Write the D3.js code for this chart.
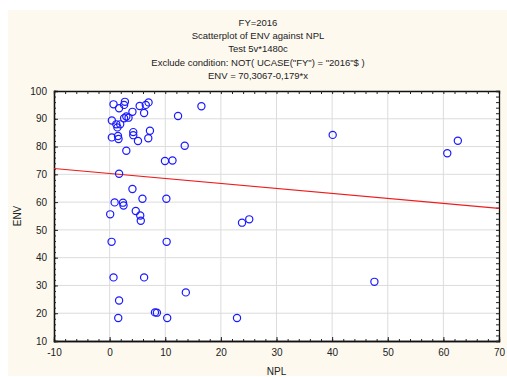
<!DOCTYPE html>
<html>
<head>
<meta charset="utf-8">
<script src="https://cdn.jsdelivr.net/npm/d3@7"></script>
<style>
  body { margin: 0; background: #fff; }
  text { font-family: "Liberation Sans", Arial, sans-serif; fill: #222; }
</style>
</head>
<body>
<svg id="chart"></svg>
<script>
// datos
const npl = [0.7, 1.7, 2.75, 2.6, 4.1, 5.4, 6.5, 7.0, 6.2, 16.5, 12.3,
  0.4, 1.2, 1.4, 1.9, 2.6, 3.0, 3.4,
  0.4, 1.5, 1.6, 4.25, 4.25, 5.1, 7.25, 6.95, 13.5, 3.0, 9.95, 11.3, 1.7,
  4.1, 5.9, 10.2, 0.9, 2.4, 2.5, 0.1, 4.7, 5.5, 5.6, 0.35, 10.25,
  40.1, 60.7, 62.6, 23.8, 25.1, 47.6,
  0.7, 6.2, 1.7, 13.7, 1.55, 8.15, 8.5, 10.35, 22.9];
const env = [95.2, 93.8, 96.1, 95.0, 92.5, 94.6, 95.0, 95.9, 92.1, 94.5, 91.0,
  89.4, 88.0, 86.9, 88.0, 90.2, 90.8, 90.4,
  83.3, 83.8, 82.7, 85.2, 84.1, 82.0, 85.7, 83.0, 80.3, 78.5, 74.8, 75.0, 70.2,
  64.7, 61.2, 61.2, 59.9, 59.8, 58.8, 55.6, 56.8, 55.2, 53.3, 45.7, 45.7,
  84.2, 77.6, 82.1, 52.6, 53.8, 31.3,
  32.9, 32.9, 24.6, 27.5, 18.3, 20.3, 20.2, 18.3, 18.3];
const xTicks = [-10, 0, 10, 20, 30, 40, 50, 60, 70];
const yTicks = [10, 20, 30, 40, 50, 60, 70, 80, 90, 100];
const titles = ['FY=2016', 'Scatterplot of ENV against NPL', 'Test 5v*1480c',
  'Exclude condition: NOT( UCASE("FY") = "2016"$ )', 'ENV = 70,3067-0,179*x'];
const intercept = 70.3067, slope = -0.179;

const width = 507, height = 377;
const pLeft = 54, pRight = 499, pTop = 91, pBottom = 341;

const svg = d3.select('#chart').attr('width', width).attr('height', height);

// fondo crema
svg.append('rect').attr('x', 8).attr('y', 10).attr('width', width - 8).attr('height', 366)
  .attr('fill', '#fdf9ef');
svg.append('rect').attr('x', pLeft).attr('y', pTop).attr('width', pRight - pLeft).attr('height', pBottom - pTop)
  .attr('fill', '#fff');

const x = d3.scaleLinear().domain([-10, 70]).range([pLeft, pRight]);
const y = d3.scaleLinear().domain([10, 100]).range([pBottom, pTop]);

// rejilla
svg.append('g').selectAll('line').data(xTicks.slice(1, -1)).enter().append('line')
  .attr('x1', d => x(d)).attr('x2', d => x(d)).attr('y1', pTop).attr('y2', pBottom)
  .attr('stroke', '#dcdcdc').attr('stroke-width', 1);
svg.append('g').selectAll('line').data(yTicks.slice(1, -1)).enter().append('line')
  .attr('y1', d => y(d)).attr('y2', d => y(d)).attr('x1', pLeft).attr('x2', pRight)
  .attr('stroke', '#dcdcdc').attr('stroke-width', 1);

// ejes con marcas hacia dentro
const fmt = d => String(d);
svg.append('g').attr('transform', `translate(0,${pBottom})`)
  .call(d3.axisBottom(x).tickValues(xTicks).tickSize(-4).tickPadding(8).tickFormat(fmt));
svg.append('g').attr('transform', `translate(0,${pBottom})`)
  .call(d3.axisBottom(x).tickValues(d3.range(-10, 71, 2)).tickSize(-2).tickFormat(''));
svg.append('g').attr('transform', `translate(${pLeft},0)`)
  .call(d3.axisLeft(y).tickValues(yTicks).tickSize(-4).tickPadding(7).tickFormat(fmt));
svg.append('g').attr('transform', `translate(${pLeft},0)`)
  .call(d3.axisLeft(y).tickValues(d3.range(10, 101, 2)).tickSize(-2).tickFormat(''));
svg.append('g').attr('transform', `translate(0,${pTop})`)
  .call(d3.axisTop(x).tickValues(d3.range(-10, 71, 2)).tickSize(-3).tickFormat(''));
svg.append('g').attr('transform', `translate(${pRight},0)`)
  .call(d3.axisRight(y).tickValues(d3.range(10, 101, 2)).tickSize(-3).tickFormat(''));

svg.selectAll('.domain').attr('stroke', '#111').attr('stroke-width', 1.3);
svg.selectAll('.tick line').attr('stroke', '#222');
svg.selectAll('.tick text').style('font-size', '10px').attr('fill', '#222');

// linea de regresion
svg.append('line')
  .attr('x1', x(-10)).attr('y1', y(intercept + slope * -10))
  .attr('x2', x(70)).attr('y2', y(intercept + slope * 70))
  .attr('stroke', '#ee1c1c').attr('stroke-width', 1.2);

// puntos
svg.append('g').selectAll('circle').data(npl).enter().append('circle')
  .attr('cx', d => x(d))
  .attr('cy', (d, i) => y(env[i]))
  .attr('r', 3.6)
  .attr('fill', 'none')
  .attr('stroke', '#1a1aff')
  .attr('stroke-width', 1.2);

// titulos
svg.append('g').selectAll('text').data(titles).enter().append('text')
  .attr('x', 258).attr('y', (d, i) => 26 + i * 13.2)
  .attr('text-anchor', 'middle').style('font-size', '9.5px')
  .text(d => d);

svg.append('text').attr('x', (pLeft + pRight) / 2).attr('y', 375).attr('text-anchor', 'middle')
  .style('font-size', '10px').text('NPL');
svg.append('text').attr('transform', `translate(21,${(pTop + pBottom) / 2}) rotate(-90)`)
  .attr('text-anchor', 'middle').style('font-size', '10px').text('ENV');
</script>
</body>
</html>
